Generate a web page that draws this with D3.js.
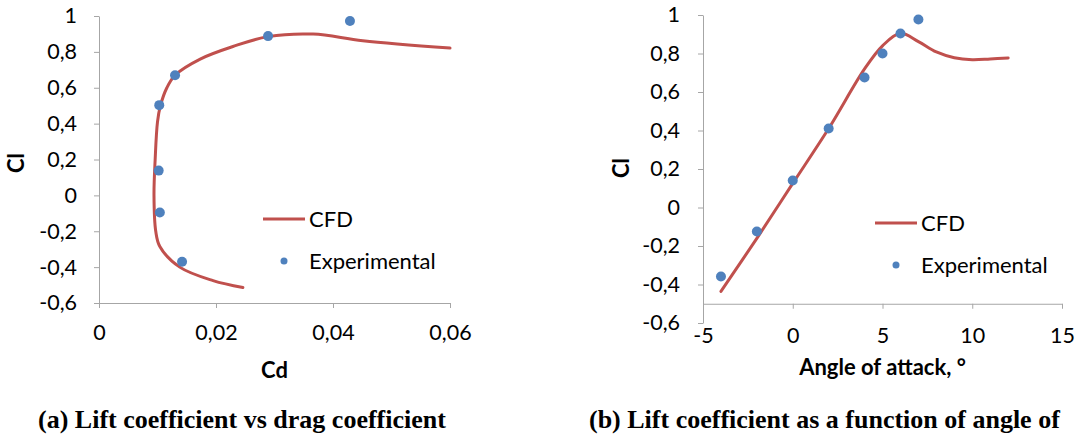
<!DOCTYPE html>
<html>
<head>
<meta charset="utf-8">
<script src="https://cdn.jsdelivr.net/npm/d3@7"></script>
<style>
  body { margin: 0; background: #fff; }
  svg { display: block; }
  .tick text { font-family: Lato, "Open Sans", sans-serif; font-size: 21.5px; fill: #000; }
</style>
</head>
<body>
<svg id="chart" width="1078" height="437"></svg>
<script>
// (a) Cl vs Cd
const cfdCd  = [0.0246, 0.0195, 0.0138, 0.0104, 0.0097, 0.0094, 0.0096, 0.0100, 0.0105, 0.0116, 0.0130, 0.0173, 0.0229, 0.0289, 0.0366, 0.0451, 0.0600];
const cfdClA = [-0.514, -0.475, -0.40, -0.285, -0.20, 0.0, 0.20, 0.41, 0.50, 0.60, 0.67, 0.76, 0.83, 0.885, 0.899, 0.862, 0.821];
const expCd  = [0.0142, 0.0104, 0.0102, 0.0103, 0.0130, 0.0289, 0.0429];
const expClA = [-0.37, -0.095, 0.138, 0.503, 0.67, 0.888, 0.972];

// (b) Cl vs angle of attack
const cfdAlpha = [-4, -2, 0, 2, 4, 5, 6, 7, 8, 9, 10, 11, 12];
const cfdClB   = [-0.436, -0.16, 0.125, 0.41, 0.72, 0.84, 0.905, 0.862, 0.808, 0.778, 0.768, 0.772, 0.777];
const expAlpha = [-4, -2, 0, 2, 4, 5, 6, 7];
const expClB   = [-0.358, -0.125, 0.14, 0.41, 0.675, 0.80, 0.904, 0.977];

const clTicks = [-0.6, -0.4, -0.2, 0, 0.2, 0.4, 0.6, 0.8, 1];
const cdTicks = [0, 0.02, 0.04, 0.06];
const alphaTicks = [-5, 0, 5, 10, 15];

const RED = "#c0504d", BLUE = "#4f81bd", AXIS = "#a6a6a6";
const commaFmt = digits => d => (+d.toFixed(digits)).toString().replace(".", ",");

const svg = d3.select("#chart");

function styleAxis(g) {
    g.select(".domain").attr("stroke", AXIS);
    g.selectAll(".tick line").attr("stroke", AXIS);
}

function drawPanel(opt) {
    const { x, y, xTicks, xFmt, xAxisAt, cfdX, cfdY, expX, expY, xLabel, yLabelX, xLabelY, legend } = opt;

    svg.append("g")
        .attr("transform", `translate(${x.range()[0]},0)`)
        .call(d3.axisLeft(y).tickValues(clTicks).tickFormat(commaFmt(1)).tickSize(5).tickSizeOuter(0).tickPadding(opt.yPad))
        .call(styleAxis);

    svg.append("g")
        .attr("transform", `translate(0,${y(xAxisAt)})`)
        .call(d3.axisBottom(x).tickValues(xTicks).tickFormat(xFmt).tickSize(5).tickSizeOuter(0).tickPadding(opt.xPad))
        .call(styleAxis);

    const line = d3.line()
        .x(d => x(d[0]))
        .y(d => y(d[1]))
        .curve(d3.curveCatmullRom.alpha(0.5));

    svg.append("path")
        .datum(d3.zip(cfdX, cfdY))
        .attr("fill", "none")
        .attr("stroke", RED)
        .attr("stroke-width", 3)
        .attr("stroke-linecap", "round")
        .attr("d", line);

    svg.append("g").selectAll("circle")
        .data(d3.zip(expX, expY))
        .join("circle")
        .attr("cx", d => x(d[0]))
        .attr("cy", d => y(d[1]))
        .attr("r", 5)
        .attr("fill", BLUE);

    // axis titles
    svg.append("text")
        .attr("x", (x.range()[0] + x.range()[1]) / 2)
        .attr("y", xLabelY)
        .attr("text-anchor", "middle")
        .style("font-family", "Lato, sans-serif")
        .style("font-weight", "bold")
        .style("font-size", "22px")
        .text(xLabel);

    svg.append("text")
        .attr("transform", `translate(${yLabelX},${opt.yLabelY}) rotate(-90)`)
        .attr("text-anchor", "middle")
        .style("font-family", "Lato, sans-serif")
        .style("font-weight", "bold")
        .style("font-size", "22px")
        .text("Cl");

    // legend
    const lg = svg.append("g").attr("transform", `translate(${legend[0]},${legend[1]})`);
    lg.append("line").attr("x1", 0).attr("x2", 42).attr("y1", 0).attr("y2", 0)
        .attr("stroke", RED).attr("stroke-width", 3);
    lg.append("text").attr("x", 46).attr("y", 0).attr("dy", "0.35em")
        .style("font-family", "Lato, sans-serif").style("font-size", "22px").text("CFD");
    lg.append("circle").attr("cx", 21).attr("cy", 42).attr("r", 3.5).attr("fill", BLUE);
    lg.append("text").attr("x", 46).attr("y", 42).attr("dy", "0.35em")
        .style("font-family", "Lato, sans-serif").style("font-size", "22px").text("Experimental");
}

drawPanel({
    x: d3.scaleLinear([0, 0.06], [99, 450]),
    y: d3.scaleLinear([-0.6, 1], [303, 16]),
    xTicks: cdTicks, xFmt: commaFmt(2), xAxisAt: -0.6,
    cfdX: cfdCd, cfdY: cfdClA, expX: expCd, expY: expClA,
    xLabel: "Cd", xLabelY: 378, yLabelX: 24, yLabelY: 163,
    yPad: 17, xPad: 17,
    legend: [263, 219]
});

drawPanel({
    x: d3.scaleLinear([-5, 15], [703, 1062]),
    y: d3.scaleLinear([-0.6, 1], [323, 15]),
    xTicks: alphaTicks, xFmt: d => d, xAxisAt: -0.5,
    cfdX: cfdAlpha, cfdY: cfdClB, expX: expAlpha, expY: expClB,
    xLabel: "Angle of attack, °", xLabelY: 375, yLabelX: 629, yLabelY: 168,
    yPad: 18, xPad: 19,
    legend: [875, 223]
});

// captions
const captions = [["(a) Lift coefficient vs drag coefficient", 38], ["(b) Lift coefficient as a function of angle of", 589]];
svg.selectAll(".caption")
    .data(captions)
    .join("text")
    .attr("class", "caption")
    .attr("x", d => d[1])
    .attr("y", 428)
    .style("font-family", "'Liberation Serif', 'Times New Roman', serif")
    .style("font-weight", "bold")
    .style("font-size", "26px")
    .text(d => d[0]);
</script>
</body>
</html>
